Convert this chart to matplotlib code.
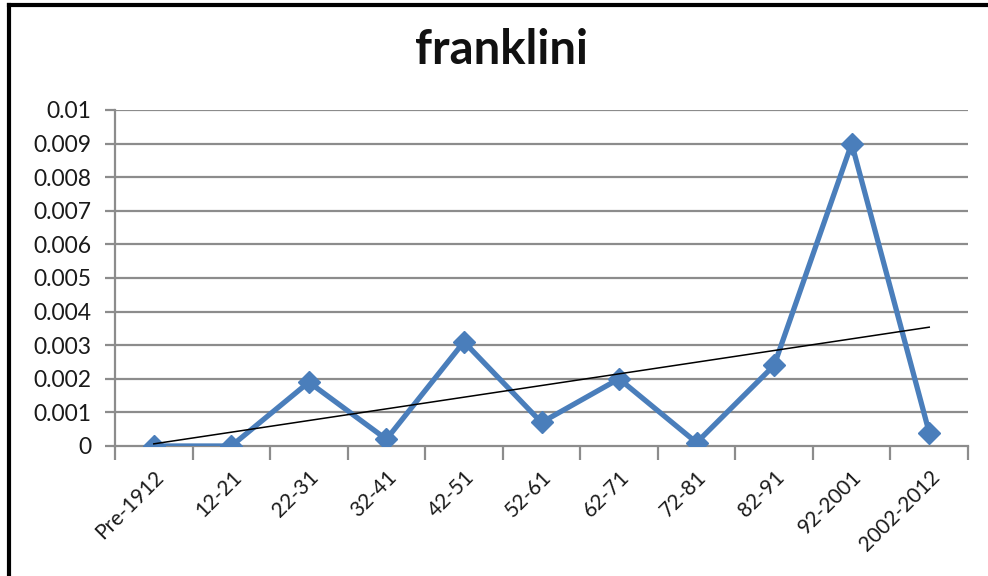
import numpy as np
import matplotlib
matplotlib.use("Agg")
import matplotlib.pyplot as plt
from matplotlib.lines import Line2D

categories = ["Pre-1912", "12-21", "22-31", "32-41", "42-51", "52-61",
              "62-71", "72-81", "82-91", "92-2001", "2002-2012"]
values = [0.0, 0.0, 0.0019, 0.0002, 0.0031, 0.0007, 0.002, 0.0001, 0.0024, 0.009, 0.0004]
yticks = [0, 0.001, 0.002, 0.003, 0.004, 0.005, 0.006, 0.007, 0.008, 0.009, 0.01]
ytick_labels = ["0", "0.001", "0.002", "0.003", "0.004", "0.005", "0.006",
                "0.007", "0.008", "0.009", "0.01"]
title = "franklini"

plt.rcParams['font.family'] = ['Lato', 'DejaVu Sans']

fig = plt.figure(figsize=(9.88, 5.76), dpi=100)
ax = fig.add_axes([115/988, 1-446/576, (968-115)/988, (446-110)/576])

x = np.arange(len(categories))
grid_c = "#8c8c8c"
for t in yticks[1:]:
    ax.axhline(t, color=grid_c, lw=1.6, zorder=1)

ax.plot(x, values, color="#4A7EBB", lw=3.8, marker="D", markersize=11.5,
        markerfacecolor="#4A7EBB", markeredgecolor="#4A7EBB", zorder=3)

coef = np.polyfit(x, values, 1)
ax.plot(x, np.polyval(coef, x), color="black", lw=1.1, zorder=4)

ax.set_xlim(-0.5, len(categories) - 0.5)
ax.set_ylim(0, 0.01)
ax.set_yticks(yticks)
ax.set_yticklabels(ytick_labels)
ax.set_xticks(x)
ax.set_xticklabels(categories, rotation=45, ha="right", rotation_mode="anchor")
ax.set_xticks(np.arange(-0.5, len(categories)), minor=True)
ax.tick_params(axis="x", which="major", length=0, pad=15, labelsize=15, colors="#1a1a1a")
ax.tick_params(axis="x", which="minor", length=10, width=1.6, color=grid_c, direction="out")
ax.tick_params(axis="y", length=7, width=1.6, color=grid_c, labelsize=16.5, labelcolor="#1a1a1a", pad=10)

for s in ["top", "right"]:
    ax.spines[s].set_visible(False)
for s in ["left", "bottom"]:
    ax.spines[s].set_color(grid_c)
    ax.spines[s].set_linewidth(1.6)
ax.spines["left"].set_zorder(2)
ax.spines["bottom"].set_zorder(2)

fig.text(502/988, 1-50/576, title, ha="center", va="center", fontsize=34, fontweight="bold", color="#111111")

# outer frame (top and left edges)
fig.add_artist(Line2D([9/988, 9/988], [0, 1-5/576], transform=fig.transFigure, color="black", lw=3))
fig.add_artist(Line2D([9/988, 1], [1-5/576, 1-5/576], transform=fig.transFigure, color="black", lw=3))

fig.savefig("out.png", dpi=100)
